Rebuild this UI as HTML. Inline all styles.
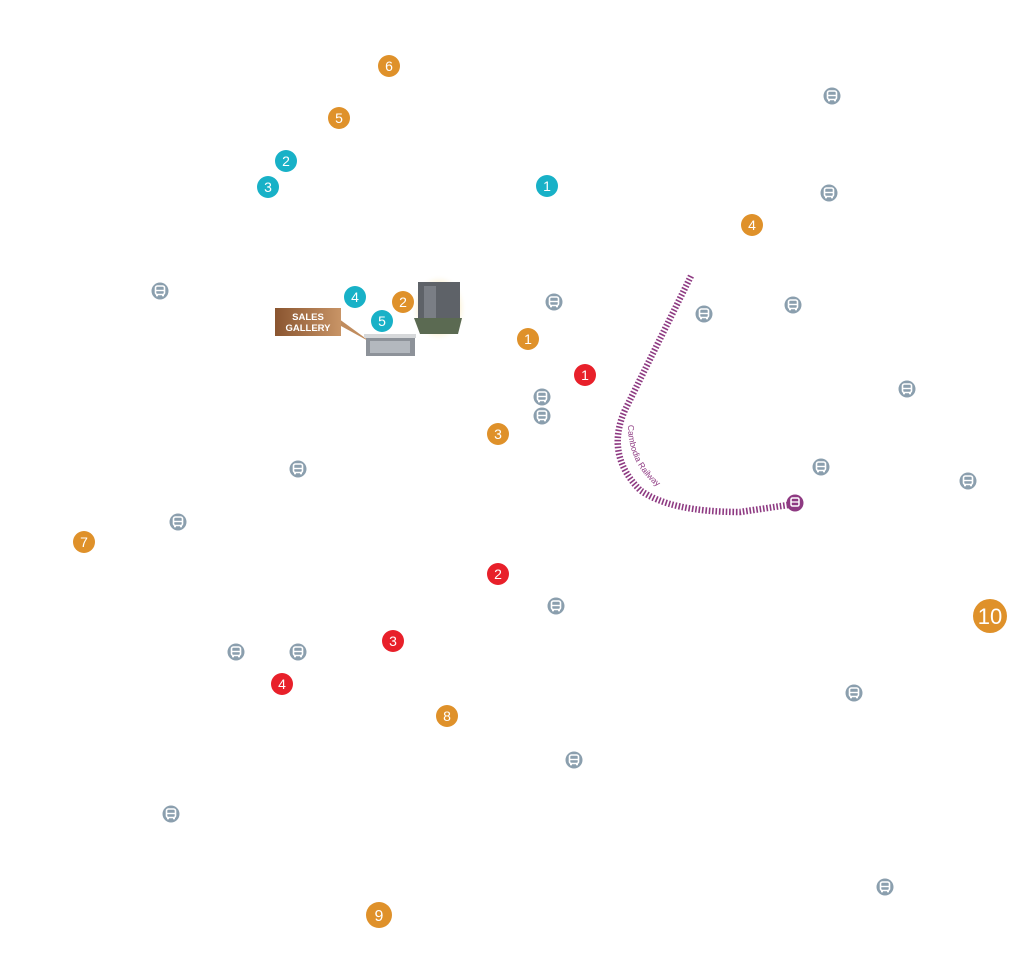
<!DOCTYPE html>
<html><head><meta charset="utf-8"><style>
html,body{margin:0;padding:0;background:#fff;width:1026px;height:956px;overflow:hidden}
svg{display:block}
text{font-family:"Liberation Sans",sans-serif}
</style></head><body>
<svg width="1026" height="956" viewBox="0 0 1026 956" xmlns="http://www.w3.org/2000/svg">
<defs>
<g id="bus">
<circle r="8.5" fill="#8b9fae"/>
<rect x="-4.5" y="-5" width="9" height="8.5" rx="1.8" fill="none" stroke="#fff" stroke-width="1.6"/>
<line x1="-4.5" y1="-0.5" x2="4.5" y2="-0.5" stroke="#fff" stroke-width="1.4"/>
<rect x="-4" y="3.3" width="2" height="2" fill="#fff"/><rect x="2" y="3.3" width="2" height="2" fill="#fff"/>
</g>
<linearGradient id="sg" x1="0" x2="1"><stop offset="0" stop-color="#8a5530"/><stop offset="1" stop-color="#c89466"/></linearGradient>
<radialGradient id="glow"><stop offset="0.6" stop-color="#f4d98a"/><stop offset="1" stop-color="#fff" stop-opacity="0"/></radialGradient>
</defs>

<!-- railway -->
<path d="M691,276 L625,410 Q605,455 640,490 Q670,512 740,512 L795,504" fill="none" stroke="#8e3a82" stroke-width="6.5" stroke-dasharray="1.6 1.8"/>
<path id="lbl" d="M628,425 Q628,470 668,494" fill="none"/>
<text font-size="8.5" fill="#8e3a82"><textPath href="#lbl">Cambodia Railway</textPath></text>
<circle cx="795" cy="503" r="8.5" fill="#8e3a82"/>
<rect x="791" y="498" width="8" height="8" rx="1.5" fill="none" stroke="#fff" stroke-width="1.5"/>
<line x1="791" y1="502" x2="799" y2="502" stroke="#fff" stroke-width="1.3"/>

<!-- buses -->
<use href="#bus" x="832" y="96"/><use href="#bus" x="829" y="193"/><use href="#bus" x="160" y="291"/>
<use href="#bus" x="554" y="302"/><use href="#bus" x="704" y="314"/><use href="#bus" x="793" y="305"/>
<use href="#bus" x="907" y="389"/><use href="#bus" x="542" y="397"/><use href="#bus" x="542" y="416"/>
<use href="#bus" x="298" y="469"/><use href="#bus" x="821" y="467"/><use href="#bus" x="968" y="481"/>
<use href="#bus" x="178" y="522"/><use href="#bus" x="556" y="606"/><use href="#bus" x="236" y="652"/>
<use href="#bus" x="298" y="652"/><use href="#bus" x="854" y="693"/><use href="#bus" x="574" y="760"/>
<use href="#bus" x="171" y="814"/><use href="#bus" x="885" y="887"/>

<!-- sales gallery -->
<polygon points="335,316 341,326 372,343" fill="#c08c5e"/>
<rect x="275" y="308" width="66" height="28" fill="url(#sg)"/>
<text x="308" y="320" font-size="9.5" font-weight="bold" fill="#fff" text-anchor="middle">SALES</text>
<text x="308" y="331" font-size="9.5" font-weight="bold" fill="#fff" text-anchor="middle">GALLERY</text>
<rect x="366" y="337" width="49" height="19" fill="#8d9299"/>
<rect x="364" y="334" width="52" height="4" fill="#d6d8da"/>
<rect x="370" y="341" width="40" height="12" fill="#b3b8be"/>
<ellipse cx="439" cy="308" rx="28" ry="34" fill="url(#glow)" opacity="0.7"/>
<rect x="418" y="282" width="42" height="44" fill="#5e6268"/>
<rect x="424" y="286" width="12" height="36" fill="#7a7e85"/>
<polygon points="414,318 462,318 458,334 420,334" fill="#5b6a52"/>

<!-- orange -->
<g fill="#df912a">
<circle cx="389" cy="66" r="11"/><circle cx="339" cy="118" r="11"/><circle cx="752" cy="225" r="11"/>
<circle cx="403" cy="302" r="11"/><circle cx="528" cy="339" r="11"/><circle cx="498" cy="434" r="11"/>
<circle cx="84" cy="542" r="11"/><circle cx="447" cy="716" r="11"/><circle cx="379" cy="915" r="13"/>
<circle cx="990" cy="616" r="17"/>
</g>
<g fill="#18b1c7">
<circle cx="286" cy="161" r="11"/><circle cx="268" cy="187" r="11"/><circle cx="547" cy="186" r="11"/>
<circle cx="355" cy="297" r="11"/><circle cx="382" cy="321" r="11"/>
</g>
<g fill="#e8202a">
<circle cx="585" cy="375" r="11"/><circle cx="498" cy="574" r="11"/><circle cx="393" cy="641" r="11"/><circle cx="282" cy="684" r="11"/>
</g>
<g fill="#fff" font-size="14" text-anchor="middle">
<text x="389" y="71">6</text><text x="339" y="123">5</text><text x="752" y="230">4</text>
<text x="403" y="307">2</text><text x="528" y="344">1</text><text x="498" y="439">3</text>
<text x="84" y="547">7</text><text x="447" y="721">8</text><text x="379" y="921" font-size="16">9</text>
<text x="990" y="624" font-size="22">10</text>
<text x="286" y="166">2</text><text x="268" y="192">3</text><text x="547" y="191">1</text>
<text x="355" y="302">4</text><text x="382" y="326">5</text>
<text x="585" y="380">1</text><text x="498" y="579">2</text><text x="393" y="646">3</text><text x="282" y="689">4</text>
</g>
</svg>
</body></html>
